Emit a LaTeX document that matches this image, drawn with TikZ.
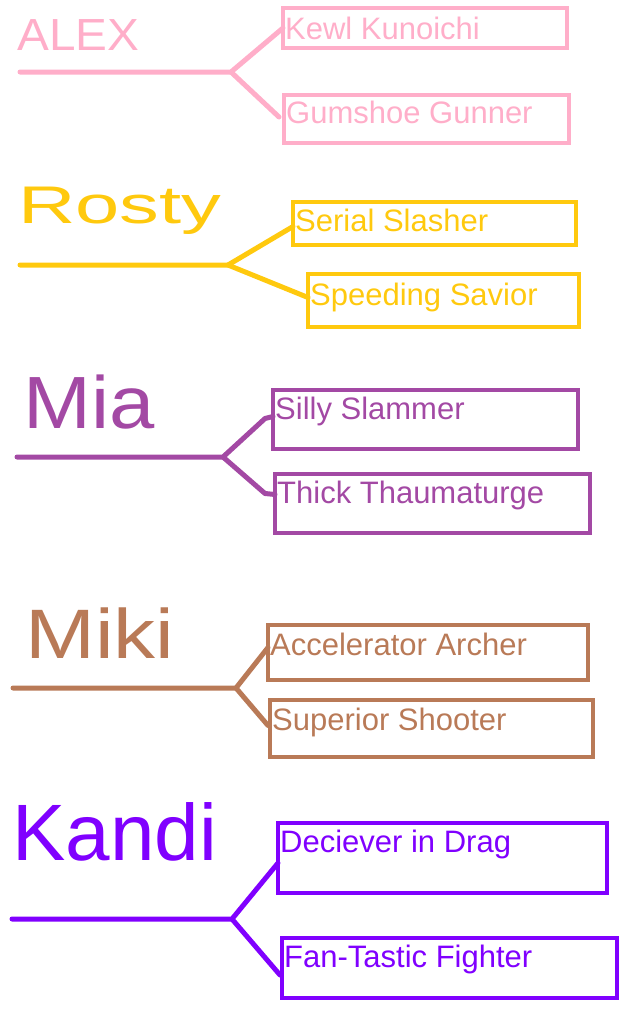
\documentclass[tikz,border=0pt]{standalone}
\usepackage{fontspec}
\setmainfont{Liberation Sans}
\usepackage{xcolor}
\definecolor{alexpink}{HTML}{FFAEC9}
\definecolor{rostygold}{HTML}{FFC90E}
\definecolor{miapurple}{HTML}{A349A4}
\definecolor{mikibrown}{HTML}{B97A57}
\definecolor{kandiviolet}{HTML}{8000FF}

\begin{document}
\begin{tikzpicture}[
  x=1pt, y=-1pt,
  role/.style={draw, line width=4pt, outer sep=0pt, inner sep=0pt, anchor=north west},
  roletext/.style={font=\fontsize{31}{31}\selectfont, anchor=base west, inner sep=0pt},
  hand/.style={font=\fontsize{#1}{#1}\selectfont, anchor=base west, inner sep=0pt},
  branch/.style={line width=5pt, line cap=round, line join=round},
]
\useasboundingbox (0,0) rectangle (636,1023);

% Alex
\begin{scope}[alexpink]
\node[hand=45] (alex) at (17,50) {\scalebox{1.06}[1]{ALEX}};
\node[role, minimum width=284, minimum height=40] (kewl) at (283,8) {};
\node[role, minimum width=285, minimum height=48] (gumshoe) at (284,95) {};
\node[roletext] (kewltext) at ([shift={(2,31)}]kewl.north west) {Kewl Kunoichi};
\node[roletext] (gumshoetext) at ([shift={(2,28)}]gumshoe.north west) {Gumshoe Gunner};
\coordinate (alexstart) at (20,72);
\coordinate (alexfork) at (231,72);
\draw[branch] (alexstart) -- (alexfork) -- (kewl.west);
\draw[branch] (alexfork) -- ([shift={(-5,-2)}]gumshoe.west);
\end{scope}

% Rosty
\begin{scope}[rostygold]
\node[hand=53] (rosty) at (18,223) {\scalebox{1.5}[1]{Rosty}};
\node[role, minimum width=283, minimum height=43] (serial) at (293,202) {};
\node[role, minimum width=271, minimum height=53] (speeding) at (308,274) {};
\node[roletext] (serialtext) at ([shift={(2,29)}]serial.north west) {Serial Slasher};
\node[roletext] (speedingtext) at ([shift={(2,31)}]speeding.north west) {Speeding Savior};
\coordinate (rostystart) at (20,265);
\coordinate (rostyfork) at (228,265);
\draw[branch] (rostystart) -- (rostyfork) -- ([shift={(0,3)}]serial.west);
\draw[branch] (rostyfork) -- ([shift={(0,-3)}]speeding.west);
\end{scope}

% Mia
\begin{scope}[miapurple]
\node[hand=74] (mia) at (23,428) {\scalebox{1.1}[1]{Mia}};
\node[role, minimum width=305, minimum height=59] (silly) at (273,390) {};
\node[role, minimum width=315, minimum height=59] (thick) at (275,474) {};
\node[roletext] (sillytext) at ([shift={(2,29)}]silly.north west) {Silly Slammer};
\node[roletext] (thicktext) at ([shift={(2,29)}]thick.north west) {Thick Thaumaturge};
\coordinate (miastart) at (17,457);
\coordinate (miafork) at (223,457);
\draw[branch] (miastart) -- (miafork) -- ([shift={(-8,-1)}]silly.west) -- ([shift={(0,-3)}]silly.west);
\draw[branch] (miafork) -- ([shift={(-10,-10)}]thick.west) -- ([shift={(0,-9)}]thick.west);
\end{scope}

% Miki
\begin{scope}[mikibrown]
\node[hand=70] (miki) at (25,658) {\scalebox{1.2}[1]{Miki}};
\node[role, minimum width=320, minimum height=55] (accel) at (268,625) {};
\node[role, minimum width=323, minimum height=57] (superior) at (270,700) {};
\node[roletext] (acceltext) at ([shift={(2,30)}]accel.north west) {Accelerator Archer};
\node[roletext] (superiortext) at ([shift={(2,30)}]superior.north west) {Superior Shooter};
\coordinate (mikistart) at (13,688);
\coordinate (mikifork) at (236,688);
\draw[branch] (mikistart) -- (mikifork) -- ([shift={(0,-5)}]accel.west);
\draw[branch] (mikifork) -- ([shift={(-2,-3)}]superior.west);
\end{scope}

% Kandi
\begin{scope}[kandiviolet]
\node[hand=80] (kandi) at (12,860) {Kandi};
\node[role, minimum width=329, minimum height=70] (deciever) at (278,823) {};
\node[role, minimum width=335, minimum height=60] (fan) at (282,938) {};
\node[roletext] (decievertext) at ([shift={(2,29)}]deciever.north west) {Deciever in Drag};
\node[roletext] (fantext) at ([shift={(2,29)}]fan.north west) {Fan-Tastic Fighter};
\coordinate (kandistart) at (12,919);
\coordinate (kandifork) at (232,919);
\draw[branch] (kandistart) -- (kandifork) -- ([shift={(0,5)}]deciever.west);
\draw[branch] (kandifork) -- ([shift={(-2,7)}]fan.west);
\end{scope}
\end{tikzpicture}
\end{document}
